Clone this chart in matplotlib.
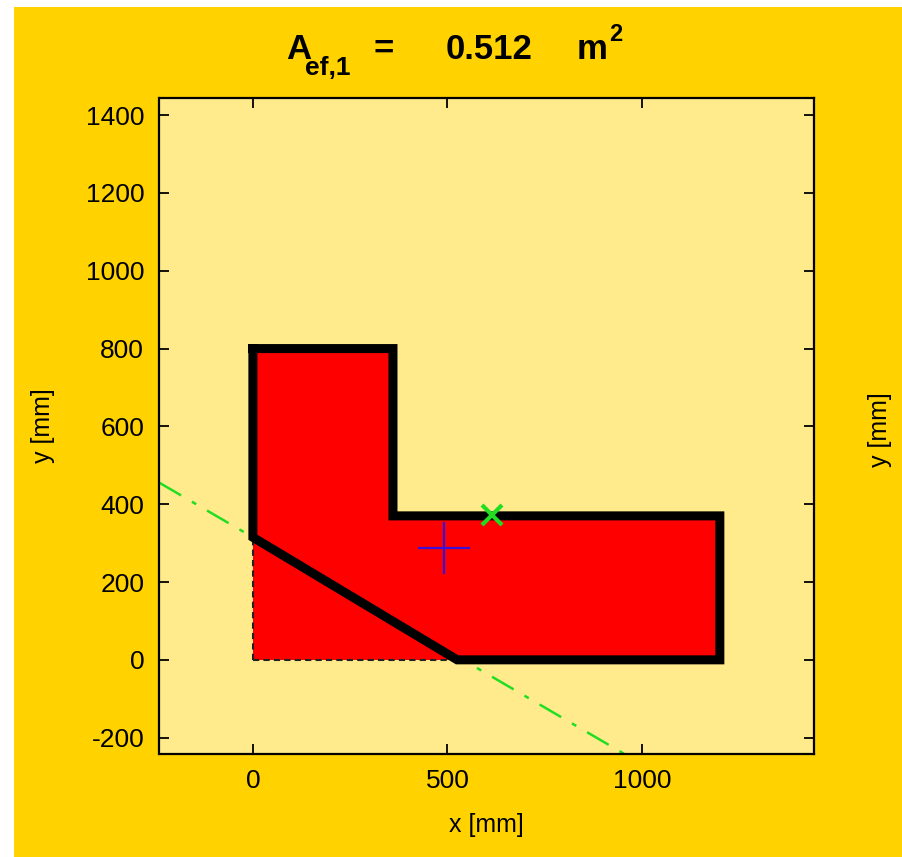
import matplotlib
matplotlib.use("Agg")
import matplotlib.pyplot as plt
from matplotlib.patches import Rectangle

# ---- data ----
section_x = [0, 1200, 1200, 360, 360, 0]
section_y = [0, 0, 370, 370, 800, 800]
eff_x = [0, 360, 360, 1200, 1200, 525, 0, 0]
eff_y = [800, 800, 370, 370, 0, 0, 315, 800]
cut_x1 = [0, 0]
cut_y1 = [0, 315]
cut_x2 = [0, 525]
cut_y2 = [0, 0]
na_x = [-240, 960]
na_y = [455, -245]
centroid = (490, 287)
green_pt = (615, 373)
xticks = [0, 500, 1000]
yticks = [-200, 0, 200, 400, 600, 800, 1000, 1200, 1400]
area_value = "0.512"

W, H = 903, 857
plt.rcParams['font.family'] = ['Liberation Sans', 'DejaVu Sans']
plt.rcParams['axes.unicode_minus'] = False
fig = plt.figure(figsize=(W / 100, H / 100), dpi=100, facecolor='white')
fig.patches.append(Rectangle((14 / W, 0), 1 - 14 / W, 1 - 7 / H, transform=fig.transFigure,
                             facecolor='#FFD200', edgecolor='none', zorder=-10))

ax = fig.add_axes([159.5 / W, 1 - 754 / H, (814 - 159.5) / W, (754 - 98) / H])
ax.set_facecolor('#FFEB8C')
ax.set_xlim(-240, 1442)
ax.set_ylim(-242, 1444)

ax.plot(na_x, na_y, color='#22DD22', linewidth=1.8, linestyle=(0, (10, 5, 2, 5)), zorder=0.5)
ax.fill(section_x, section_y, color='#FF0000', zorder=1, linewidth=0)
ax.plot(cut_x1, cut_y1, color='#222222', linestyle=(0, (3, 2)), linewidth=1.5, zorder=2)
ax.plot(cut_x2, cut_y2, color='#222222', linestyle=(0, (3, 2)), linewidth=1.5, zorder=2)
ax.plot(eff_x, eff_y, color='black', linewidth=6.5, solid_joinstyle='miter', zorder=3)
ax.plot([centroid[0]], [centroid[1]], marker='+', markersize=38, markeredgewidth=1.6,
        color='#3A10D8', zorder=5)
ax.plot([green_pt[0]], [green_pt[1]], marker='x', markersize=15, markeredgewidth=3,
        color='#22DD22', zorder=5)

ax.set_xticks(xticks)
ax.set_yticks(yticks)
ax.tick_params(direction='in', length=7, width=1.3, top=True, right=True,
               labelsize=19, pad=11, colors='black')
for s in ax.spines.values():
    s.set_linewidth(1.6)
ax.set_xlabel('x [mm]', fontsize=18, labelpad=14)
ax.set_ylabel('y [mm]', fontsize=18, labelpad=22)
fig.text(880 / W, 1 - 430 / H, 'y [mm]', rotation=90, fontsize=18, ha='center', va='center')

# title pieces
base = 1 - 59 / H
fig.text(286 / W, base, 'A', fontsize=25, fontweight='bold', ha='left', va='baseline')
fig.text(305 / W, 1 - 75 / H, 'ef,1', fontsize=19, fontweight='bold', ha='left', va='baseline')
fig.text(374 / W, base, '=', fontsize=25, fontweight='bold', ha='left', va='baseline')
fig.text(446 / W, base, area_value, fontsize=25, fontweight='bold', ha='left', va='baseline')
fig.text(577 / W, base, 'm', fontsize=25, fontweight='bold', ha='left', va='baseline')
fig.text(609 / W, 1 - 41 / H, '2', fontsize=17, fontweight='bold', ha='left', va='baseline')

fig.savefig('out.png', dpi=100, facecolor=fig.get_facecolor())
